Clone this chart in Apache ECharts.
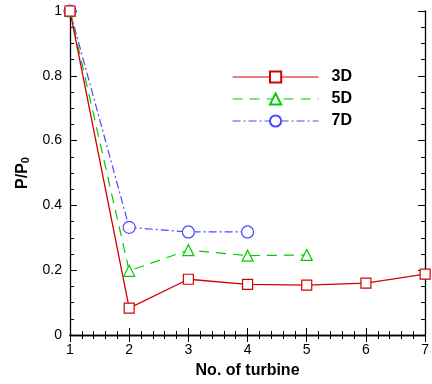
<!DOCTYPE html>
<html><head><meta charset="utf-8">
<script src="https://cdn.jsdelivr.net/npm/echarts@6/dist/echarts.min.js"></script>
<style>html,body{margin:0;padding:0;background:#fff}#c{width:432px;height:384px}</style>
</head><body><div id="c"></div>
<script>
const turbines3D = [1,2,3,4,5,6,7];
const values3D = [1.0,0.083,0.172,0.156,0.154,0.160,0.188];
const turbines5D = [1,2,3,4,5];
const values5D = [1.0,0.198,0.262,0.245,0.247];
const turbines7D = [1,2,3,4];
const values7D = [1.0,0.332,0.318,0.318];
const xTicks = [1,2,3,4,5,6,7];
const yTicks = [0,0.2,0.4,0.6,0.8,1];

const pair = (xs, ys) => xs.map((x,i)=>[x, ys[i]]);
const font = 'Liberation Sans, Arial, sans-serif';
const axisLine = {show:true, lineStyle:{color:'#000', width:1.3}};
const tick = {show:true, inside:true, length:7, lineStyle:{color:'#000', width:1}};
const minor = {show:true, splitNumber:5, length:4, lineStyle:{color:'#000', width:1}};
const minorY = {show:true, splitNumber:4, length:4, lineStyle:{color:'#000', width:1}};

const chart = echarts.init(document.getElementById('c'));
chart.setOption({
  animation:false,
  backgroundColor:'#fff',
  grid:{left:70, right:2, top:11, bottom:47},
  legend:{
    data:['3D','5D','7D'],
    orient:'vertical', left:227, top:64,
    itemWidth:86, itemHeight:14, itemGap:6,
    lineStyle:{width:1.2},
    textStyle:{fontFamily:font, fontSize:16, fontWeight:'bold', color:'#000', padding:[0,0,0,8]}
  },
  xAxis:[{
    type:'value', min:1, max:7, interval:1,
    name:'No. of turbine', nameLocation:'middle', nameGap:28,
    nameTextStyle:{fontFamily:font, fontSize:16, fontWeight:'bold', color:'#000'},
    axisLine, axisTick:tick, minorTick:minor,
    axisLabel:{fontFamily:font, fontSize:14, color:'#000', margin:8, showMaxLabel:true,
      formatter:v=> xTicks.includes(v) ? String(v) : ''},
    splitLine:{show:false}
  },{
    type:'value', min:1, max:7, interval:1, position:'top',
    axisLine, axisTick:tick, minorTick:minor, axisLabel:{show:false}, splitLine:{show:false}
  }],
  yAxis:[{
    type:'value', min:0, max:1, interval:0.2,
    name:'P/P{s|0}', nameLocation:'middle', nameGap:38,
    nameTextStyle:{fontFamily:font, fontSize:16, fontWeight:'bold', color:'#000',
      rich:{s:{fontFamily:font, fontSize:11, fontWeight:'bold', color:'#000', verticalAlign:'bottom', padding:[8,0,0,0]}}},
    axisLine, axisTick:tick, minorTick:minorY,
    axisLabel:{fontFamily:font, fontSize:14, color:'#000', margin:8,
      formatter:v=>{const t=yTicks.find(y=>Math.abs(y-v)<1e-9); return t===undefined?'':String(t);}},
    splitLine:{show:false}
  },{
    type:'value', min:0, max:1, interval:0.2, position:'right',
    axisLine, axisTick:tick, minorTick:minorY, axisLabel:{show:false}, splitLine:{show:false}
  }],
  series:[
    {name:'7D', type:'line', data:pair(turbines7D, values7D), clip:false,
     symbol:'circle', symbolSize:12, showAllSymbol:true,
     itemStyle:{color:'#fff', borderColor:'#4a4aff', borderWidth:1.2},
     lineStyle:{color:'#4a4aff', width:1.2, type:[8,3,2,3]}, color:'#4a4aff'},
    {name:'5D', type:'line', data:pair(turbines5D, values5D), clip:false,
     symbol:'triangle', symbolSize:11, showAllSymbol:true,
     itemStyle:{color:'#fff', borderColor:'#00cc00', borderWidth:1.2},
     lineStyle:{color:'#00cc00', width:1.2, type:[10,7]}, color:'#00cc00'},
    {name:'3D', type:'line', data:pair(turbines3D, values3D), clip:false,
     symbol:'rect', symbolSize:10, showAllSymbol:true,
     itemStyle:{color:'#fff', borderColor:'#d40000', borderWidth:1.2},
     lineStyle:{color:'#d40000', width:1.3, type:'solid'}, color:'#d40000'}
  ]
});
</script></body></html>
